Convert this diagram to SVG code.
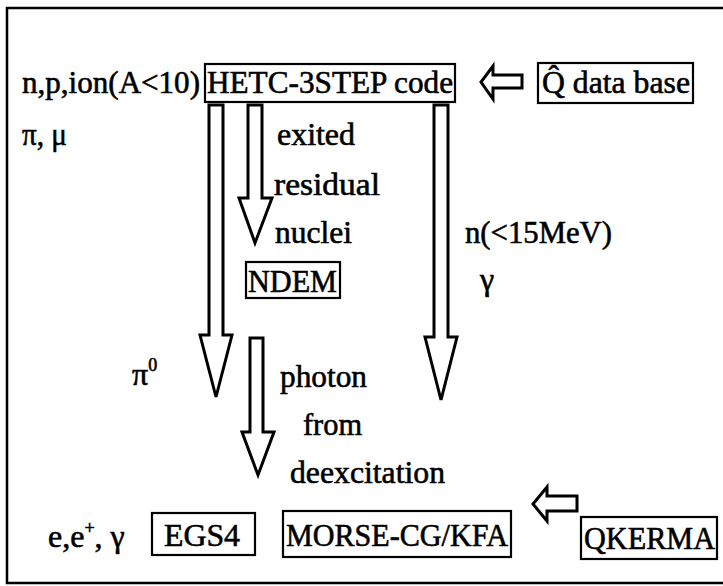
<svg xmlns="http://www.w3.org/2000/svg" width="723" height="586" viewBox="0 0 723 586">
<style>
text{font-family:'Liberation Serif','Times New Roman',serif;font-size:32px;fill:#000;stroke:#000;stroke-width:0.6}
.box{fill:#fff;stroke:#000;stroke-width:2.2}
.arr{fill:#fff;stroke:#000;stroke-width:3;stroke-linejoin:miter}
.frame{fill:none;stroke:#000;stroke-width:2.5}
</style>
<rect width="723" height="586" fill="#fff"/>
<path class="frame" d="M723,8 H7 V583 H723"/>
<g id="connectors">
<polygon class="arr" points="209,105 223,105 223,335 232,335 216,397 200,335 209,335"/>
<polygon class="arr" points="248,105 262,105 262,198 272,198 255,243 239,198 248,198"/>
<polygon class="arr" points="434,105 448,105 448,337 457,337 441,400 425,337 434,337"/>
<polygon class="arr" points="250,338 263,338 263,432 274,432 258,475 242,432 250,432"/>
<polygon class="arr" points="522,75 522,88 493,88 493,99 481,82 493,66 493,75"/>
<polygon class="arr" points="577,496 577,511 547,511 547,521 533,504 547,487 547,496"/>
</g>
<g id="labels">
<text x="22" y="93" textLength="178" lengthAdjust="spacingAndGlyphs">n,p,ion(A&lt;10)</text>
<text x="22" y="145" textLength="45" lengthAdjust="spacingAndGlyphs">π, μ</text>
<text x="277" y="145" textLength="78" lengthAdjust="spacingAndGlyphs">exited</text>
<text x="274" y="195" textLength="106" lengthAdjust="spacingAndGlyphs">residual</text>
<text x="275" y="243" textLength="77" lengthAdjust="spacingAndGlyphs">nuclei</text>
<text x="465" y="243" textLength="147" lengthAdjust="spacingAndGlyphs">n(&lt;15MeV)</text>
<text x="480" y="290">γ</text>
<text x="132" y="385">π<tspan font-size="18" dy="-14">0</tspan></text>
<text x="280" y="387" textLength="87" lengthAdjust="spacingAndGlyphs">photon</text>
<text x="303" y="435" textLength="59" lengthAdjust="spacingAndGlyphs">from</text>
<text x="290" y="483" textLength="155" lengthAdjust="spacingAndGlyphs">deexcitation</text>
<text x="48" y="547">e,e<tspan font-size="18" dy="-13">+</tspan><tspan dy="13">, γ</tspan></text>
</g>
<g id="hetc">
<rect class="box" x="205" y="64" width="250" height="38"/>
<text x="207" y="93" textLength="246" lengthAdjust="spacingAndGlyphs">HETC-3STEP code</text>
</g>
<g id="qdatabase">
<rect class="box" x="538" y="63" width="155" height="40"/>
<text x="542" y="93" textLength="148" lengthAdjust="spacingAndGlyphs">Q̂ data base</text>
</g>
<g id="ndem">
<rect class="box" x="246" y="262" width="94" height="36"/>
<text x="248" y="292" textLength="89" lengthAdjust="spacingAndGlyphs">NDEM</text>
</g>
<g id="egs4">
<rect class="box" x="152" y="513" width="103" height="42"/>
<text x="164" y="546" textLength="76" lengthAdjust="spacingAndGlyphs">EGS4</text>
</g>
<g id="morse">
<rect class="box" x="283" y="511" width="228" height="46"/>
<text x="286" y="546" textLength="222" lengthAdjust="spacingAndGlyphs">MORSE-CG/KFA</text>
</g>
<g id="qkerma">
<rect class="box" x="581" y="517" width="136" height="42"/>
<text x="584" y="549" textLength="131" lengthAdjust="spacingAndGlyphs">QKERMA</text>
</g>
</svg>
